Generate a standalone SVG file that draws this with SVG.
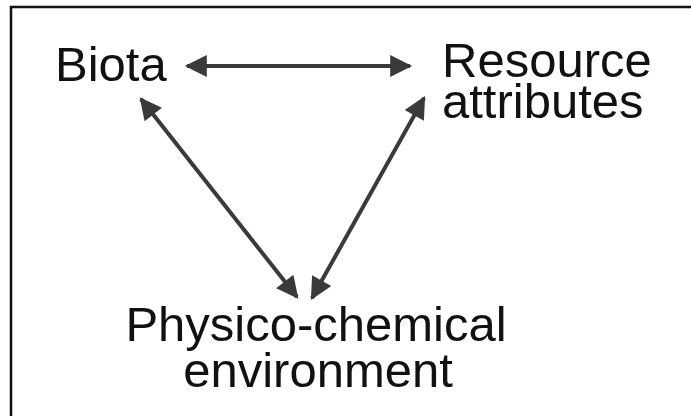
<svg xmlns="http://www.w3.org/2000/svg" width="691" height="416" viewBox="0 0 691 416">
<style>
.t{font-family:"Liberation Sans",Arial,sans-serif;font-size:49px;fill:#111}
.c{stroke:#3a3a3a;stroke-width:4;fill:none}
</style>
<defs>
<marker id="ah" viewBox="0 0 10 10" refX="9" refY="5" markerWidth="6" markerHeight="5.5" orient="auto-start-reverse" markerUnits="strokeWidth">
<path d="M0,0 L10,5 L0,10 z" fill="#3a3a3a"/>
</marker>
</defs>
<rect width="691" height="416" fill="#fff"/>
<path d="M11,416 V7 H691" stroke="#111" stroke-width="2.5" fill="none"/>
<g id="connectors">
<line class="c" x1="187" y1="66" x2="410" y2="66" marker-start="url(#ah)" marker-end="url(#ah)"/>
<line class="c" x1="141" y1="99" x2="297" y2="297" marker-start="url(#ah)" marker-end="url(#ah)"/>
<line class="c" x1="424" y1="98" x2="312" y2="298" marker-start="url(#ah)" marker-end="url(#ah)"/>
</g>
<g id="biota"><text class="t" x="55" y="81">Biota</text></g>
<g id="resource"><text class="t" x="442" y="77">Resource</text><text class="t" x="442" y="118">attributes</text></g>
<g id="physico"><text class="t" x="316" y="341" text-anchor="middle">Physico-chemical</text><text class="t" x="318" y="387" text-anchor="middle">environment</text></g>
</svg>
